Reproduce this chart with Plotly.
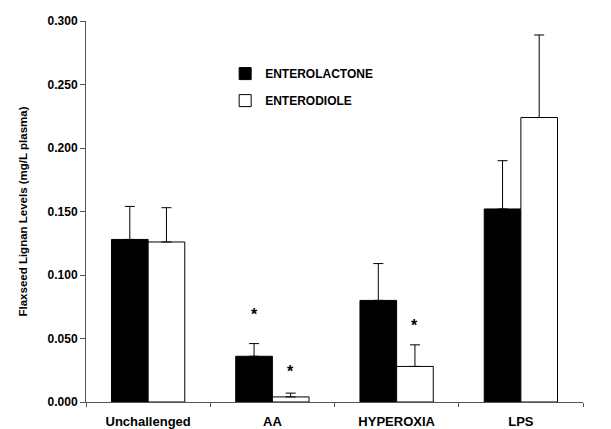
import plotly.graph_objects as go

categories = ["Unchallenged", "AA", "HYPEROXIA", "LPS"]
enterolactone = [0.128, 0.036, 0.080, 0.152]
enterolactone_err = [0.026, 0.010, 0.029, 0.038]
enterodiole = [0.126, 0.004, 0.028, 0.224]
enterodiole_err = [0.027, 0.003, 0.017, 0.065]

# significance markers: (category, series offset in px, y position)
stars = [("AA", -18, 0.069), ("AA", 18, 0.024), ("HYPEROXIA", 18, 0.060)]

font = dict(family="Liberation Sans, Arial, sans-serif", color="black", weight="bold")

fig = go.Figure()
fig.add_trace(go.Bar(
    x=categories, y=enterolactone, name="ENTEROLACTONE",
    marker=dict(color="black", line=dict(color="black", width=1)),
    error_y=dict(type="data", array=enterolactone_err, symmetric=False,
                 arrayminus=[0] * 4, color="black", thickness=1, width=5),
    legendgroup="a",
))
fig.add_trace(go.Bar(
    x=categories, y=enterodiole, name="ENTERODIOLE",
    marker=dict(color="white", line=dict(color="black", width=1)),
    error_y=dict(type="data", array=enterodiole_err, symmetric=False,
                 arrayminus=[0] * 4, color="black", thickness=1, width=5),
    legendgroup="b",
))

for cat, dx, yv in stars:
    fig.add_annotation(x=cat, y=yv, xshift=dx, text="*", showarrow=False,
                       font=dict(size=16, **font))

fig.update_layout(
    width=611, height=429,
    margin=dict(l=86, r=28, t=21, b=27),
    plot_bgcolor="white", paper_bgcolor="white",
    barmode="group", bargap=0.41, bargroupgap=0,
    font=dict(size=12, **font),
    legend=dict(x=0.28, y=0.9, xanchor="left", yanchor="top",
                font=dict(size=12, **font), tracegroupgap=8,
                bgcolor="rgba(0,0,0,0)", itemwidth=30),
    showlegend=True,
)
fig.update_xaxes(
    automargin=False,
    showline=True, linecolor="#555", linewidth=1,
    ticks="outside", tickson="boundaries", ticklen=4, tickcolor="#555",
    ticklabelstandoff=7,
    tickfont=dict(size=13, **font), showgrid=False,
)
fig.update_yaxes(
    automargin=False,
    range=[0, 0.3], dtick=0.05, tickformat=".3f",
    showline=True, linecolor="#555", linewidth=1,
    ticks="outside", ticklen=5, tickcolor="#555", showgrid=False, zeroline=False,
    tickfont=dict(size=12, **font),
    title=dict(text="Flaxseed Lignan Levels (mg/L plasma)", font=dict(size=11.5, **font), standoff=17),
)

fig.write_html("out.html")
